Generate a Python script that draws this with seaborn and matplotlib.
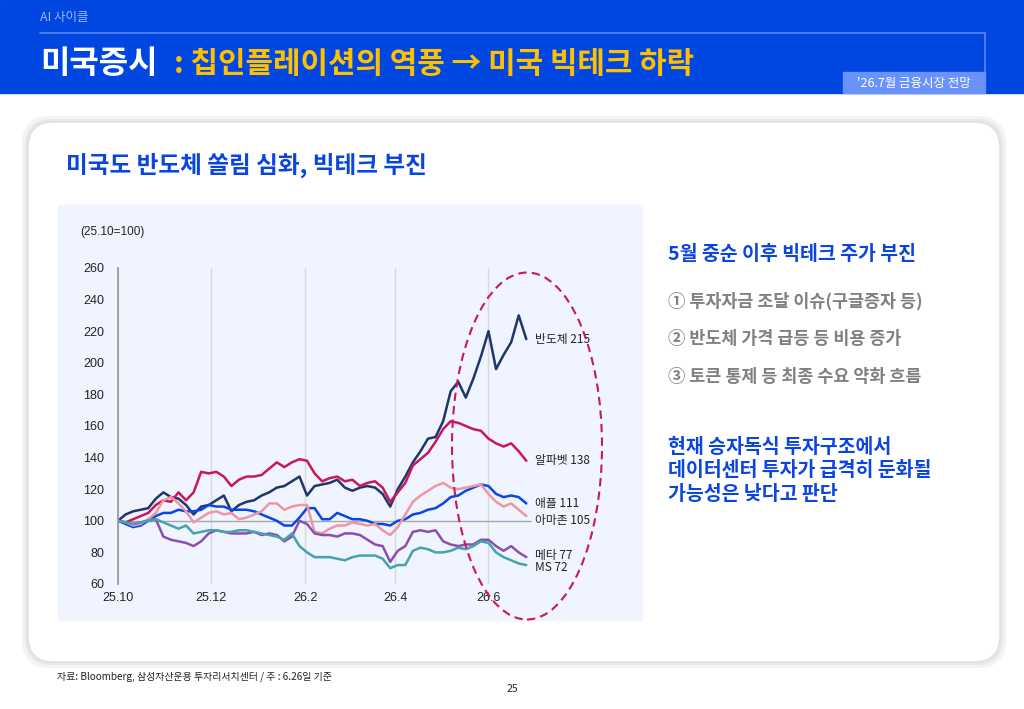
import seaborn as sns
import matplotlib.pyplot as plt
import pandas as pd
import numpy as np
from matplotlib.patches import Rectangle, FancyBboxPatch, Ellipse
from matplotlib.transforms import IdentityTransform

# data (25.10 = 100)
start, end = "2025-10-01", "2026-06-26"
n_points = 55

semis = [100, 104, 106, 107, 108, 114, 118, 115, 114, 110, 104, 109, 110, 113, 116, 106,
         110, 112, 113, 116, 118, 121, 122, 125, 128, 116, 122, 123, 124, 126, 121, 119,
         121, 122, 121, 117, 109, 120, 128, 137, 144, 152, 153, 163, 182, 188, 178, 190,
         204, 220, 196, 205, 213, 230, 215]
alphabet = [100, 99, 101, 103, 105, 110, 113, 112, 118, 113, 118, 131, 130, 131, 128, 122,
            126, 128, 128, 129, 133, 137, 134, 137, 139, 138, 130, 125, 127, 128, 125, 126,
            122, 124, 125, 121, 112, 118, 124, 135, 139, 143, 150, 158, 163, 162, 160, 158,
            157, 152, 149, 147, 149, 144, 138]
apple = [100, 98, 96, 97, 100, 103, 105, 105, 107, 106, 106, 107, 110, 109, 109, 107,
         107, 107, 106, 104, 102, 100, 97, 97, 102, 108, 108, 101, 101, 105, 103, 101,
         101, 100, 98, 98, 97, 100, 101, 104, 105, 107, 108, 111, 115, 116, 119, 121,
         123, 122, 117, 115, 116, 115, 111]
amazon = [100, 99, 97, 98, 101, 105, 113, 115, 111, 106, 99, 102, 105, 106, 104, 105,
          101, 102, 104, 106, 111, 111, 107, 109, 110, 110, 93, 92, 95, 97, 97, 99,
          98, 97, 98, 94, 91, 96, 104, 112, 116, 119, 122, 124, 121, 120, 121, 122,
          123, 117, 112, 109, 111, 107, 103]
meta = [100, 99, 98, 99, 100, 101, 90, 88, 87, 86, 84, 87, 92, 94, 93, 92,
        92, 92, 93, 91, 92, 91, 87, 90, 100, 98, 92, 91, 91, 90, 92, 92,
        91, 88, 85, 84, 74, 81, 84, 93, 94, 93, 94, 87, 85, 84, 85, 85,
        88, 88, 84, 81, 84, 80, 77]
msft = [100, 99, 98, 99, 100, 101, 99, 97, 95, 97, 92, 93, 94, 94, 93, 93,
        94, 94, 93, 92, 91, 90, 88, 92, 84, 80, 77, 77, 77, 76, 75, 77,
        78, 78, 78, 76, 70, 72, 72, 81, 83, 82, 80, 80, 81, 83, 82, 84,
        87, 86, 80, 77, 75, 73, 72]

names = ["반도체", "알파벳", "애플", "아마존", "메타", "MS"]
series = [semis, alphabet, apple, amazon, meta, msft]
colors = ["#1f3668", "#c8175c", "#0b45e6", "#ee97a1", "#8b4fae", "#46a2ab"]
end_labels = ["반도체 215", "알파벳 138", "애플 111", "아마존 105", "메타 77", "MS 72"]
label_y = [215, 138, 111, 100.5, 78, 70.5]

x_ticks = ["2025-10-01", "2025-12-01", "2026-02-01", "2026-04-01", "2026-06-01"]
x_tick_labels = ["25.10", "25.12", "26.2", "26.4", "26.6"]

dates = pd.date_range(start, end, periods=n_points)
df = pd.DataFrame({name: vals for name, vals in zip(names, series)}, index=dates)
df.index.name = "date"
long = df.reset_index().melt(id_vars="date", var_name="name", value_name="value")

sns.set_theme(style="white")
plt.rcParams["font.family"] = ["Noto Sans CJK KR", "DejaVu Sans"]

W, H = 1024, 709
fig = plt.figure(figsize=(W / 100, H / 100), dpi=100)
fig.patch.set_facecolor("white")
px = IdentityTransform()


def fx(x):
    return x / W


def fy(y):
    return 1 - y / H


# header band
fig.patches.append(Rectangle((0, H - 93), W, 93, transform=px, color="#0046e0", zorder=-3))
fig.lines.append(plt.Line2D([fx(40), fx(985)], [fy(33), fy(33)], transform=fig.transFigure,
                            color="#5b86ff", lw=1.2))
fig.lines.append(plt.Line2D([fx(985), fx(985)], [fy(33), fy(72)], transform=fig.transFigure,
                            color="#5b86ff", lw=1.2))
fig.patches.append(Rectangle((843, H - 93), 142, 21, transform=px, color="#6a92fb", zorder=-2))
fig.text(fx(40), fy(18), "AI 사이클", color="#9fb8ff", fontsize=9, va="center")
fig.text(fx(40), fy(64), "미국증시", color="white", fontsize=23, fontweight="bold", va="center")
fig.text(fx(174), fy(64), ": 칩인플레이션의 역풍 → 미국 빅테크 하락", color="#ffc000",
         fontsize=21.5, fontweight="bold", va="center")
fig.text(fx(914), fy(83), "'26.7월 금융시장 전망", color="white", fontsize=9,
         ha="center", va="center")

# card with soft shadow
for pad, c in [(6, "#f3f3f3"), (3, "#e6e6e6")]:
    fig.patches.append(FancyBboxPatch((28 - pad, H - 662 - pad), 972 + 2 * pad, 540 + 2 * pad,
                                      boxstyle="round,pad=0,rounding_size=28", transform=px,
                                      fc=c, ec="none", zorder=-3))
fig.patches.append(FancyBboxPatch((28, H - 662), 972, 540, boxstyle="round,pad=0,rounding_size=26",
                                  transform=px, fc="white", ec="#e0e0e0", lw=1, zorder=-2))
fig.text(fx(66), fy(165), "미국도 반도체 쏠림 심화, 빅테크 부진", color="#0b45e0",
         fontsize=17, fontweight="bold", va="center")

# chart panel
fig.patches.append(Rectangle((58, H - 620), 584, 415, transform=px, color="#eff4fe", zorder=-1))
fig.text(fx(80), fy(232), "(25.10=100)", fontsize=8.5, va="center", color="#222222",
         family="Liberation Sans")

ax = fig.add_axes([fx(118), fy(584), fx(540 - 118), (584 - 268) / H])
ax.set_facecolor("none")
sns.lineplot(data=long, x="date", y="value", hue="name", hue_order=names,
             palette=colors, linewidth=1.8, legend=False, ax=ax)

x0 = pd.Timestamp(start)
ax.set_xlim(x0, x0 + pd.Timedelta(days=277))
ax.set_ylim(60, 260)
ax.set_yticks(np.arange(60, 261, 20))
ax.set_xticks(pd.to_datetime(x_ticks))
ax.set_xticklabels(x_tick_labels)
ax.tick_params(axis="y", labelsize=9, length=4, color="#999999", direction="out", pad=6)
ax.tick_params(axis="x", labelsize=9, length=0, pad=6)
for lab in ax.get_xticklabels() + ax.get_yticklabels():
    lab.set_family("Liberation Sans")
    lab.set_color("#222222")
for s in ["top", "right", "bottom"]:
    ax.spines[s].set_visible(False)
ax.spines["left"].set_color("#999999")
ax.grid(axis="x", color="#d8d8d8", lw=1)
ax.set_axisbelow(True)
ax.hlines(100, x0, pd.Timestamp(end) + pd.Timedelta(days=3), color="#a8a8a8", lw=1, zorder=1)
ax.set_xlabel("")
ax.set_ylabel("")

for lab, yv in zip(end_labels, label_y):
    ax.text(pd.Timestamp(end) + pd.Timedelta(days=6), yv, lab, fontsize=8.5,
            va="center", ha="left", color="#222222", clip_on=False)

fig.patches.append(Ellipse((fx(527), fy(446)), fx(150), 347 / H, transform=fig.transFigure,
                           fill=False, ec="#c8175c", lw=1.5, ls=(0, (4, 2.5)), zorder=5))

# right-side commentary
fig.text(fx(668), fy(255), "5월 중순 이후 빅테크 주가 부진", color="#0b45e0",
         fontsize=14, fontweight="bold", va="center")
for i, line in enumerate(["① 투자자금 조달 이슈(구글증자 등)", "② 반도체 가격 급등 등 비용 증가",
                          "③ 토큰 통제 등 최종 수요 약화 흐름"]):
    fig.text(fx(668), fy(301 + 38 * i), line, color="#808080", fontsize=12.5,
             fontweight="bold", va="center")
for i, line in enumerate(["현재 승자독식 투자구조에서", "데이터센터 투자가 급격히 둔화될",
                          "가능성은 낮다고 판단"]):
    fig.text(fx(668), fy(447 + 24 * i), line, color="#0b45e0", fontsize=14,
             fontweight="bold", va="center")

# footer
fig.text(fx(57), fy(677), "자료: Bloomberg, 삼성자산운용 투자리서치센터 / 주 : 6.26일 기준",
         fontsize=7.2, va="center", color="#222222")
fig.text(fx(512), fy(689), "25", fontsize=7.5, ha="center", va="center", color="#222222")

fig.savefig("out.png", dpi=100)
